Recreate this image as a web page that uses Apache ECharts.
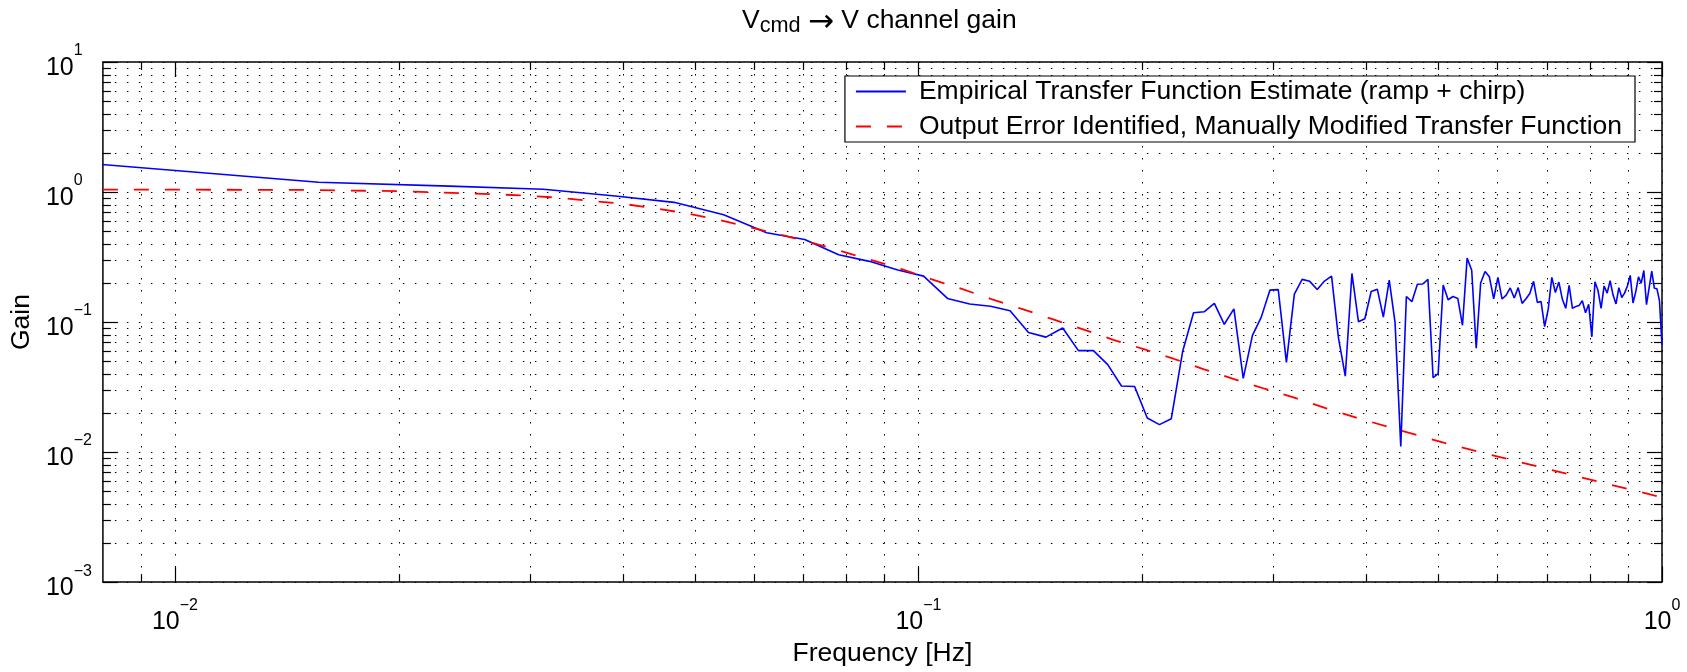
<!DOCTYPE html>
<html>
<head>
<meta charset="utf-8">
<script src="https://cdn.jsdelivr.net/npm/echarts@6/dist/echarts.min.js"></script>
<style>
html,body{margin:0;padding:0;background:#fff;}
#chart{width:1687px;height:672px;}
</style>
</head>
<body>
<div id="chart"></div>
<script>
// ---- data ----
const freqHz = [0.0078,0.0156,0.0234,0.0313,0.0391,0.0469,0.0547,0.0625,0.0703,0.0781,0.0859,0.0938,0.1016,0.1094,0.1172,0.125,
0.1328,0.1406,0.1484,0.1563,0.1641,0.1719,0.1797,0.1875,0.1953,0.2031,0.2109,0.2188,0.2266,0.2344,0.2422,0.25,
0.2578,0.2656,0.2734,0.2813,0.2891,0.2969,0.3047,0.3125,0.3203,0.3281,0.3359,0.3438,0.3516,0.3594,0.3672,0.375,
0.3828,0.3906,0.3984,0.4063,0.4141,0.4219,0.4297,0.4375,0.4453,0.4531,0.4609,0.4688,0.4766,0.4844,0.4922,0.5,
0.5078,0.5156,0.5234,0.5313,0.5391,0.5469,0.5547,0.5625,0.5703,0.5781,0.5859,0.5938,0.6016,0.6094,0.6172,0.625,
0.6328,0.6406,0.6484,0.6563,0.6641,0.6719,0.6797,0.6875,0.6953,0.7031,0.7109,0.7188,0.7266,0.7344,0.7422,0.75,
0.7578,0.7656,0.7734,0.7813,0.7891,0.7969,0.8047,0.8125,0.8203,0.8281,0.8359,0.8438,0.8516,0.8594,0.8672,0.875,
0.8828,0.8906,0.8984,0.9063,0.9141,0.9219,0.9297,0.9375,0.9453,0.9531,0.9609,0.9688,0.9766,0.9844,0.9922,1.0];

const empiricalGain = [1.645,1.19,1.11,1.05,0.933,0.833,0.668,0.486,0.432,0.329,0.293,0.251,0.2256,0.1519,0.1378,0.1321,
0.1220,0.0831,0.0766,0.0901,0.0603,0.0603,0.0470,0.0322,0.0319,0.01827,0.01626,0.01805,0.0593,0.1178,0.1199,0.1392,
0.0961,0.1264,0.0369,0.079,0.1091,0.1759,0.1777,0.0490,0.1640,0.2129,0.2056,0.1777,0.2067,0.2256,0.0753,0.0384,
0.2364,0.1007,0.1061,0.1716,0.1789,0.1091,0.2104,0.0990,0.01103,0.1573,0.1434,0.1952,0.1962,0.2129,0.0373,0.0402,
0.1928,0.1485,0.1573,0.1519,0.0944,0.3102,0.2503,0.0629,0.1997,0.2447,0.2228,0.1511,0.2205,0.1503,0.1612,0.1830,
0.1530,0.1840,0.1392,0.1511,0.1658,0.2056,0.1417,0.1441,0.0923,0.1264,0.2205,0.1686,0.2031,0.1503,0.1276,0.1918,
0.1276,0.1315,0.1338,0.1459,0.1178,0.1369,0.0770,0.2042,0.1746,0.1276,0.1895,0.1669,0.2078,0.1612,0.1378,0.1840,
0.1546,0.1669,0.1895,0.2284,0.1402,0.1707,0.2228,0.1986,0.2490,0.1361,0.1830,0.2460,0.1820,0.1805,0.1459,0.0666];

const modelFreqHz = [0.008,0.01485,0.02023,0.02686,0.0296,0.03268,0.03608,0.03984,0.04398,0.04856,0.05354,0.05882,0.06475,
0.07125,0.07829,0.08614,0.09472,0.104,0.1141,0.1253,0.138,0.1518,0.1665,0.1828,0.2009,0.2207,0.2421,0.2657,0.2922,
0.3203,0.3528,0.388,0.4261,0.469,0.5155,0.554,0.7094,1.0];
const modelGain = [1.044,1.039,1.014,0.962,0.938,0.906,0.858,0.814,0.753,0.688,0.617,0.542,0.475,
0.4127,0.3548,0.3021,0.2566,0.214,0.1805,0.1503,0.1258,0.1048,0.0878,0.073,0.0619,0.052,0.0433,0.0364,0.0307,
0.0262,0.0218,0.0184,0.01575,0.01347,0.01157,0.01039,0.0073,0.00448];

const xMajorTicks = [0.01, 0.1, 1];
const xMinorTicks = [0.009, 0.02,0.03,0.04,0.05,0.06,0.07,0.08,0.09, 0.2,0.3,0.4,0.5,0.6,0.7,0.8,0.9];
const yMajorTicks = [0.001, 0.01, 0.1, 1, 10];
const yMinorTicks = [0.002,0.003,0.004,0.005,0.006,0.007,0.008,0.009,
  0.02,0.03,0.04,0.05,0.06,0.07,0.08,0.09, 0.2,0.3,0.4,0.5,0.6,0.7,0.8,0.9, 2,3,4,5,6,7,8,9];

const seriesNames = ['Empirical Transfer Function Estimate (ramp + chirp)',
                     'Output Error Identified, Manually Modified Transfer Function'];
const X_MIN = 0.008, X_MAX = 1, Y_MIN = 0.001, Y_MAX = 10;

// ---- chart ----
const FONT = 'Liberation Sans, Arial, Helvetica, sans-serif';
const chart = echarts.init(document.getElementById('chart'), null, {renderer: 'canvas'});

function pow10Label(value) {
  const l = Math.log10(value);
  const e = Math.round(l);
  if (Math.abs(l - e) > 1e-6) return '';
  return '{b|10}{s|' + (e < 0 ? '\u2212' + (-e) : String(e)) + '}';
}
const labelRich = {
  b: {fontSize: 25, lineHeight: 38, fontFamily: FONT, color: '#000', verticalAlign: 'bottom'},
  s: {fontSize: 16, lineHeight: 16, fontFamily: FONT, color: '#000', verticalAlign: 'top'}
};

const DOT = {stroke: '#000', lineWidth: 1, lineDash: [1.5, 10.5]};
const TICK = {stroke: '#000', lineWidth: 1.2};

function vLines(tickLen) {
  return function (params, api) {
    const cs = params.coordSys;
    const x = Math.round(api.coord([api.value(0), api.value(1)])[0]) + 0.5;
    const top = cs.y, bot = cs.y + cs.height;
    return {type: 'group', children: [
      {type: 'line', shape: {x1: x, y1: top, x2: x, y2: bot}, style: DOT},
      {type: 'line', shape: {x1: x, y1: bot, x2: x, y2: bot - tickLen}, style: TICK},
      {type: 'line', shape: {x1: x, y1: top, x2: x, y2: top + tickLen}, style: TICK}
    ]};
  };
}
function hLines(tickLen) {
  return function (params, api) {
    const cs = params.coordSys;
    const y = Math.round(api.coord([api.value(0), api.value(1)])[1]) + 0.5;
    const l = cs.x, r = cs.x + cs.width;
    return {type: 'group', children: [
      {type: 'line', shape: {x1: l, y1: y, x2: r, y2: y}, style: DOT},
      {type: 'line', shape: {x1: l, y1: y, x2: l + tickLen, y2: y}, style: TICK},
      {type: 'line', shape: {x1: r, y1: y, x2: r - tickLen, y2: y}, style: TICK}
    ]};
  };
}

const titleTok = {fontSize: 26.5, lineHeight: 30, fontFamily: FONT, fontWeight: 'normal', color: '#000', verticalAlign: 'top'};
const option = {
  animation: false,
  backgroundColor: '#fff',
  title: {
    text: '{v|V}{sub|cmd}{n| }{a|\u2192}{n| V channel gain}',
    left: 742, top: 7, padding: 0,
    textStyle: {
      fontWeight: 'normal',
      rich: {
        v: titleTok,
        n: titleTok,
        a: {fontSize: 31, lineHeight: 30, fontFamily: 'DejaVu Sans', fontWeight: 'normal', color: '#000', verticalAlign: 'top'},
        sub: {fontSize: 21.7, lineHeight: 24, fontFamily: FONT, fontWeight: 'normal', color: '#000', verticalAlign: 'bottom', padding: [17, 0, 0, 0]}
      }
    }
  },
  legend: {
    data: seriesNames,
    orient: 'vertical',
    right: 52, top: 76,
    padding: [2, 13, 2, 10],
    itemGap: 8,
    itemWidth: 50, itemHeight: 14,
    backgroundColor: '#fff',
    borderColor: '#000', borderWidth: 1.2, borderRadius: 0,
    itemStyle: {opacity: 0, borderWidth: 0},
    textStyle: {fontSize: 26.5, lineHeight: 26, fontFamily: FONT, color: '#000', padding: [0, 0, 0, 8]}
  },
  grid: {left: 100, right: 25, top: 62, bottom: 81, show: true, borderColor: '#000', borderWidth: 1.5, backgroundColor: 'transparent'},
  xAxis: {
    type: 'log', logBase: 10, min: X_MIN, max: X_MAX,
    name: 'Frequency [Hz]', nameLocation: 'middle', nameGap: 47,
    nameTextStyle: {fontSize: 26.5, fontFamily: FONT, color: '#000'},
    axisLine: {show: false}, axisTick: {show: false}, splitLine: {show: false}, minorTick: {show: false},
    axisLabel: {formatter: pow10Label, rich: labelRich, margin: 15, showMinLabel: true, showMaxLabel: true}
  },
  yAxis: {
    type: 'log', logBase: 10, min: Y_MIN, max: Y_MAX,
    name: 'Gain', nameLocation: 'middle', nameGap: 67, nameRotate: 90,
    nameTextStyle: {fontSize: 26.5, fontFamily: FONT, color: '#000'},
    axisLine: {show: false}, axisTick: {show: false}, splitLine: {show: false},
    axisLabel: {formatter: pow10Label, rich: labelRich, margin: 57, align: 'left'}
  },
  series: [
    {type: 'custom', silent: true, z: 1, renderItem: vLines(15), data: xMajorTicks.map(v => [v, 1])},
    {type: 'custom', silent: true, z: 1, renderItem: vLines(8), data: xMinorTicks.map(v => [v, 1])},
    {type: 'custom', silent: true, z: 1, renderItem: hLines(15), data: yMajorTicks.map(v => [0.1, v])},
    {type: 'custom', silent: true, z: 1, renderItem: hLines(8), data: yMinorTicks.map(v => [0.1, v])},
    {
      name: seriesNames[0], type: 'line', z: 3, symbol: 'none', showSymbol: false, clip: true,
      lineStyle: {color: '#0000ff', width: 1.6}, itemStyle: {color: '#0000ff'},
      data: freqHz.map((f, i) => [f, empiricalGain[i]])
    },
    {
      name: seriesNames[1], type: 'line', z: 4, symbol: 'none', showSymbol: false, clip: true,
      lineStyle: {color: '#ff0000', width: 1.8, type: [15, 16]}, itemStyle: {color: '#ff0000'},
      data: modelFreqHz.map((f, i) => [f, modelGain[i]])
    }
  ]
};
chart.setOption(option);
</script>
</body>
</html>
